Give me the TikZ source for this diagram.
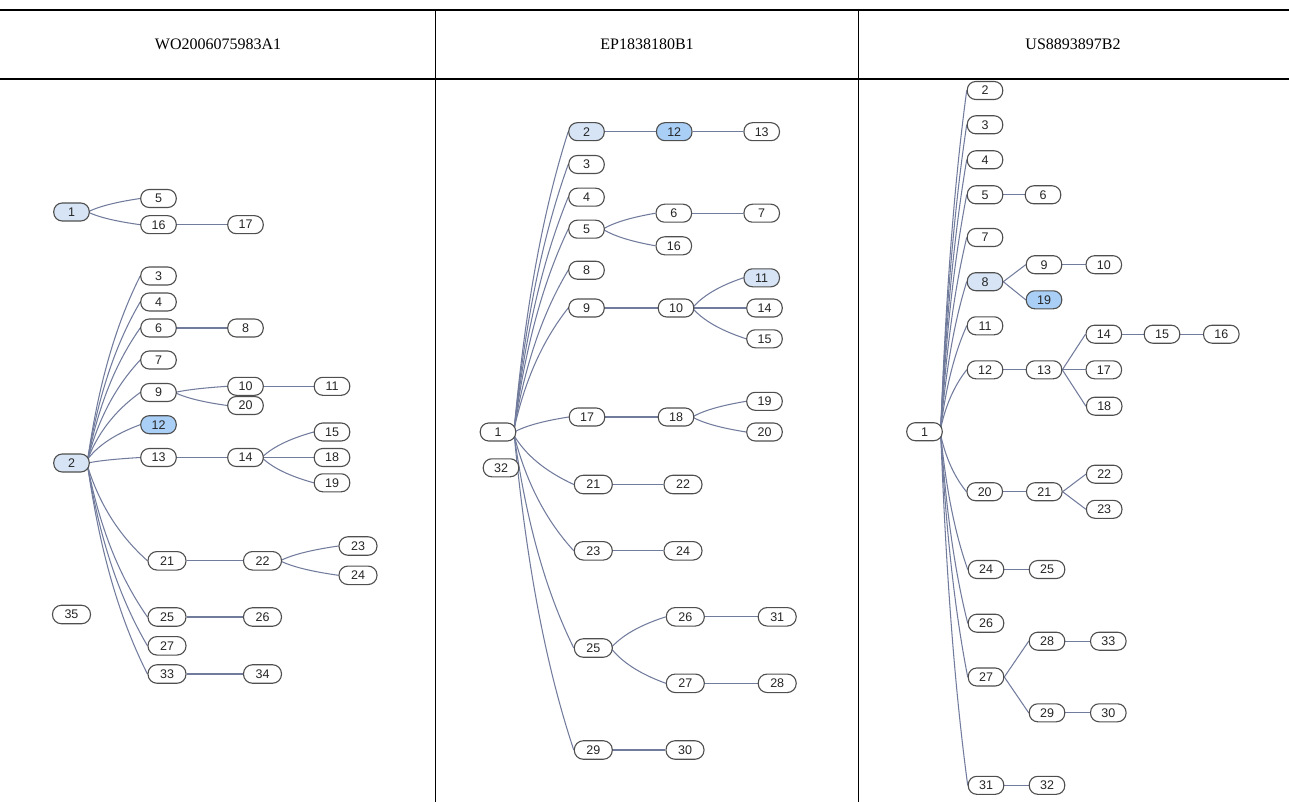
\documentclass[tikz,border=0pt]{standalone}
\usepackage{fontspec}
\setmainfont{Liberation Serif}
\newfontfamily\nodefont{Liberation Sans}
\usetikzlibrary{calc,backgrounds}
\definecolor{edgec}{HTML}{717B9C}
\definecolor{bord}{HTML}{4F4F4F}
\definecolor{lblue}{HTML}{D6E4F5}
\definecolor{bblue}{HTML}{A9CFF7}
\tikzset{
  nd/.style={draw=bord, line width=1.1pt, rounded corners=8.5pt, minimum width=35.5pt,
    minimum height=18pt, inner sep=0pt, fill=white,
    font=\nodefont\fontsize{12.5}{13}\selectfont, text=black!85},
  wide/.style={minimum width=38pt, minimum height=18.5pt, rounded corners=9pt},
  lb/.style={fill=lblue}, bb/.style={fill=bblue},
  edge/.style={draw=edgec, line width=1.05pt},
  hdr/.style={font=\fontsize{16}{18}\selectfont},
  rule/.style={line width=2.2pt},
  vrule/.style={line width=1pt}
}
\newcommand\ce[3][0pt]{\draw[edge] let \p1=($(#2.east)+(-2pt,#1)$), \p2=(#3.west),
  \n1={\x2-\x1}, \n2={\y2-\y1}, \n3={0.25*\n1}, \n4={0.5*\n2}, \n5={0.35*\n1}, \n6={0.2*\n2} in
  (\p1) .. controls ($(\p1)+(\n3,\n4)$) and ($(\p2)-(\n5,\n6)$) .. (\p2);}
\newcommand\se[2]{\draw[edge] (#1.east) -- (#2.west);}
\begin{document}
\begin{tikzpicture}[x=1pt,y=-1pt]
\useasboundingbox (0,0) rectangle (1289,802);
% table
\draw[rule] (0,10) -- (1289,10);
\draw[rule] (0,79) -- (1289,79);
\draw[vrule] (435,10) -- (435,802);
\draw[vrule] (858,10) -- (858,802);
\node[hdr] (h1) at (218,44) {WO2006075983A1};
\node[hdr] (h2) at (647,44) {EP1838180B1};
\node[hdr] (h3) at (1073,44) {US8893897B2};
% ---------------- left panel
\node[nd,lb] (L1) at (71.5,212) {1};
\node[nd] (L5) at (158.5,198.5) {5};
\node[nd] (L16) at (158.5,224.7) {16};
\node[nd] (L17) at (245.5,224.7) {17};
\node[nd] (L3) at (158.5,276) {3};
\node[nd] (L4) at (158.5,302) {4};
\node[nd] (L6) at (158.5,328) {6};
\node[nd] (L8) at (245.5,328) {8};
\node[nd] (L7) at (158.5,360) {7};
\node[nd] (L9) at (158.5,392.5) {9};
\node[nd] (L10) at (245.5,386.3) {10};
\node[nd] (L20) at (245.5,405.5) {20};
\node[nd] (L11) at (332,386.3) {11};
\node[nd,bb] (L12) at (158.5,424.7) {12};
\node[nd,lb] (L2) at (71.5,463) {2};
\node[nd] (L13) at (158.5,457.5) {13};
\node[nd] (L14) at (245.5,457.5) {14};
\node[nd] (L15) at (332,432) {15};
\node[nd] (L18) at (332,457.5) {18};
\node[nd] (L19) at (332,482.8) {19};
\node[nd,wide] (L21) at (167,560.8) {21};
\node[nd,wide] (L22) at (262.5,560.8) {22};
\node[nd,wide] (L23) at (358,546) {23};
\node[nd,wide] (L24) at (358,575.3) {24};
\node[nd,wide] (L35) at (71.5,614.5) {35};
\node[nd,wide] (L25) at (167,617) {25};
\node[nd,wide] (L26) at (262.5,617) {26};
\node[nd,wide] (L27) at (167,645.8) {27};
\node[nd,wide] (L33) at (167,674) {33};
\node[nd,wide] (L34) at (262.5,674) {34};
% ---------------- middle panel
\node[nd,lb] (M2) at (586.5,131.7) {2};
\node[nd,bb] (M12) at (674.2,131.7) {12};
\node[nd] (M13) at (761.7,131.7) {13};
\node[nd] (M3) at (586.5,164.5) {3};
\node[nd] (M4) at (586.5,197.2) {4};
\node[nd] (M5) at (586.5,229.2) {5};
\node[nd] (M6) at (673.8,213.2) {6};
\node[nd] (M7) at (761.7,213.2) {7};
\node[nd] (M16) at (673.8,245.8) {16};
\node[nd] (M8) at (586.5,270.2) {8};
\node[nd] (M9) at (586.5,308) {9};
\node[nd] (M10) at (676,308) {10};
\node[nd,lb] (M11) at (761.7,277.8) {11};
\node[nd] (M14) at (764.5,308) {14};
\node[nd] (M15) at (764.5,338.8) {15};
\node[nd] (M1) at (498,432) {1};
\node[nd] (M32) at (501,467.8) {32};
\node[nd] (M17) at (587,417) {17};
\node[nd] (M18) at (676,417) {18};
\node[nd] (M19) at (764.5,401.3) {19};
\node[nd] (M20) at (764.5,432) {20};
\node[nd,wide] (M21) at (593.3,484.5) {21};
\node[nd,wide] (M22) at (683,484.5) {22};
\node[nd,wide] (M23) at (593.3,550.8) {23};
\node[nd,wide] (M24) at (683,550.8) {24};
\node[nd,wide] (M25) at (593.3,648) {25};
\node[nd,wide] (M26) at (685.3,616.8) {26};
\node[nd,wide] (M31) at (777.2,616.8) {31};
\node[nd,wide] (M27) at (685.3,683.3) {27};
\node[nd,wide] (M28) at (777.2,683.3) {28};
\node[nd,wide] (M29) at (593.3,750) {29};
\node[nd,wide] (M30) at (685,750) {30};
% ---------------- right panel
\node[nd] (R2) at (985,90.5) {2};
\node[nd] (R3) at (985,124.8) {3};
\node[nd] (R4) at (985,159.8) {4};
\node[nd] (R5) at (985,194.8) {5};
\node[nd] (R6) at (1043,194.8) {6};
\node[nd] (R7) at (985,237.5) {7};
\node[nd,lb] (R8) at (985,281.7) {8};
\node[nd] (R9) at (1044,264.7) {9};
\node[nd] (R10) at (1103.8,264.7) {10};
\node[nd,bb] (R19) at (1044,299.8) {19};
\node[nd] (R11) at (985,325.8) {11};
\node[nd] (R12) at (985,369.8) {12};
\node[nd] (R13) at (1044,369.8) {13};
\node[nd] (R14) at (1103.8,334.2) {14};
\node[nd] (R15) at (1162,334.2) {15};
\node[nd] (R16) at (1221.3,334.2) {16};
\node[nd] (R17) at (1103.8,369.8) {17};
\node[nd] (R18) at (1104.2,406.2) {18};
\node[nd] (R1) at (924.5,431.7) {1};
\node[nd] (R20) at (984.7,491.7) {20};
\node[nd] (R21) at (1044.3,491.7) {21};
\node[nd] (R22) at (1104.2,474.2) {22};
\node[nd] (R23) at (1104.2,509.3) {23};
\node[nd] (R24) at (986,569.5) {24};
\node[nd] (R25) at (1047,569.5) {25};
\node[nd] (R26) at (986,623.2) {26};
\node[nd] (R27) at (986,677) {27};
\node[nd] (R28) at (1047,641.2) {28};
\node[nd] (R33) at (1108.3,641.2) {33};
\node[nd] (R29) at (1047,712.8) {29};
\node[nd] (R30) at (1108.3,712.8) {30};
\node[nd] (R31) at (986,785.3) {31};
\node[nd] (R32) at (1047,785.3) {32};
% ---------------- edges
\begin{scope}[on background layer]
% left
\ce{L1}{L5} \ce{L1}{L16} \se{L16}{L17}
\ce[4pt]{L2}{L3} \ce[4pt]{L2}{L4} \ce[4pt]{L2}{L6} \ce[4pt]{L2}{L7}
\ce[4pt]{L2}{L9} \ce[4pt]{L2}{L12} \ce{L2}{L13}
\ce[-4pt]{L2}{L21} \ce[-4pt]{L2}{L25} \ce[-4pt]{L2}{L27} \ce[-4pt]{L2}{L33}
\se{L6}{L8} \ce{L9}{L10} \ce{L9}{L20} \se{L10}{L11}
\se{L13}{L14} \ce{L14}{L15} \se{L14}{L18} \ce{L14}{L19}
\se{L21}{L22} \ce{L22}{L23} \ce{L22}{L24} \se{L25}{L26} \se{L33}{L34}
% middle
\ce[4pt]{M1}{M2} \ce[4pt]{M1}{M3} \ce[4pt]{M1}{M4} \ce[4pt]{M1}{M5}
\ce[4pt]{M1}{M8} \ce[4pt]{M1}{M9} \ce{M1}{M17}
\ce[-4pt]{M1}{M21} \ce[-4pt]{M1}{M23} \ce[-4pt]{M1}{M25} \ce[-4pt]{M1}{M29}
\se{M2}{M12} \se{M12}{M13} \ce{M5}{M6} \ce{M5}{M16} \se{M6}{M7}
\se{M9}{M10} \ce{M10}{M11} \se{M10}{M14} \ce{M10}{M15}
\se{M17}{M18} \ce{M18}{M19} \ce{M18}{M20}
\se{M21}{M22} \se{M23}{M24} \ce{M25}{M26} \ce{M25}{M27}
\se{M26}{M31} \se{M27}{M28} \se{M29}{M30}
% right
\ce[4pt]{R1}{R2} \ce[4pt]{R1}{R3} \ce[4pt]{R1}{R4} \ce[4pt]{R1}{R5}
\ce[4pt]{R1}{R7} \ce[4pt]{R1}{R8} \ce[4pt]{R1}{R11} \ce[4pt]{R1}{R12}
\ce[-4pt]{R1}{R20} \ce[-4pt]{R1}{R24} \ce[-4pt]{R1}{R26} \ce[-4pt]{R1}{R27} \ce[-4pt]{R1}{R31}
\se{R5}{R6} \se{R8}{R9} \se{R8}{R19} \se{R9}{R10}
\se{R12}{R13} \se{R13}{R14} \se{R13}{R17} \se{R13}{R18} \se{R14}{R15} \se{R15}{R16}
\se{R20}{R21} \se{R21}{R22} \se{R21}{R23} \se{R24}{R25}
\se{R27}{R28} \se{R27}{R29} \se{R28}{R33} \se{R29}{R30} \se{R31}{R32}
\end{scope}
\end{tikzpicture}
\end{document}
